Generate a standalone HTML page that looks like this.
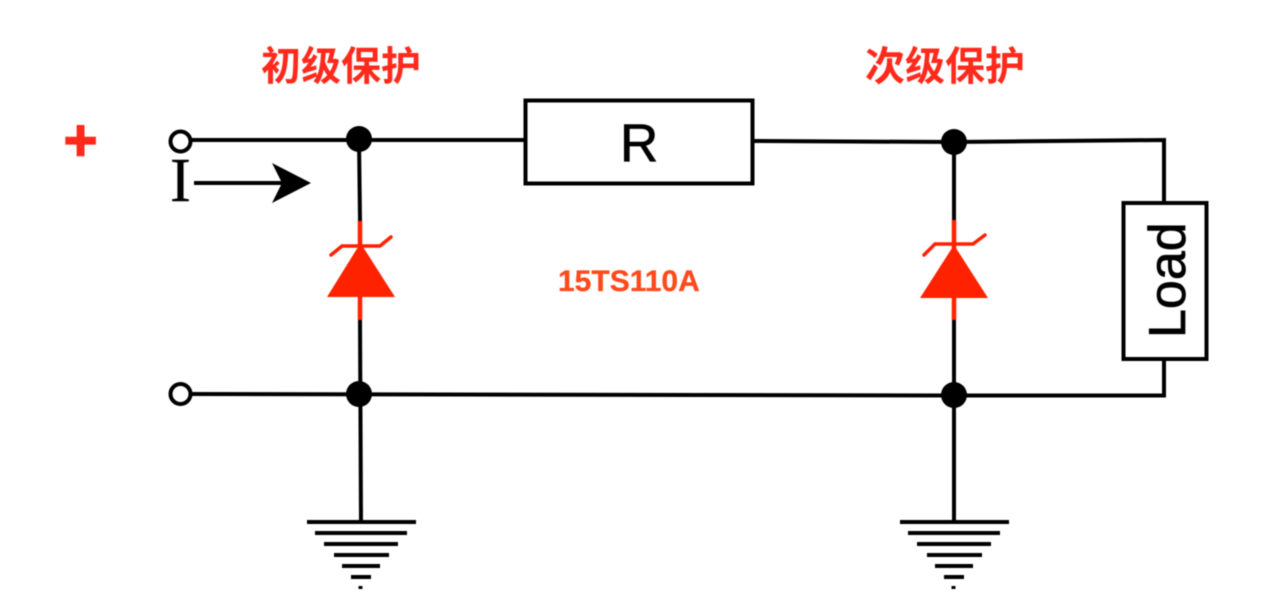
<!DOCTYPE html>
<html lang="zh">
<head>
<meta charset="utf-8">
<style>
html,body{margin:0;padding:0;background:#fff;width:1280px;height:610px;overflow:hidden}
svg{display:block;filter:blur(.6px)}
</style>
</head>
<body>
<svg width="1280" height="610" viewBox="0 0 1280 610" xmlns="http://www.w3.org/2000/svg">
<rect width="1280" height="610" fill="#fff"/>
<text x="261" y="80" font-family="'Liberation Sans','Noto Sans CJK SC',sans-serif" font-weight="700" font-size="40" fill="#ff2a1c">初级保护</text>
<text x="865" y="80" font-family="'Liberation Sans','Noto Sans CJK SC',sans-serif" font-weight="700" font-size="40" fill="#ff2a1c">次级保护</text>
<text x="80.5" y="160" text-anchor="middle" font-family="'Liberation Sans',sans-serif" font-weight="700" font-size="58" stroke="#ff2a1c" stroke-width="1.5" fill="#ff2a1c">+</text>

<g fill="none" stroke="#000" stroke-width="4">
<path d="M190 140H525"/>
<path d="M753 141L954 142L1164 140V202"/>
<path d="M190 394L954 395.5H1164V359"/>
<path d="M359 139L360 221M360 320L361 522"/>
<path d="M954 142V220M954 320V522"/>
<rect x="525.5" y="100.5" width="227" height="83" fill="#fff"/>
<rect x="1123.5" y="203" width="83" height="156" fill="#fff"/>
<circle cx="180.5" cy="141.5" r="10" fill="#fff"/>
<circle cx="180.5" cy="394" r="10" fill="#fff"/>
<path d="M194 183H284"/>
<path d="M307 522H416M315 533H407M324 544H398M334 555H389M342 566H380M351 577H371M360.5 586V589"/>
<path d="M900 522H1009M908 533H1000M917 544H991M927 555H982M935 566H973M944 577H964M953.5 586V589"/>
</g>
<path d="M311 183L272 163L282 183L272 203Z" fill="#000"/>
<g fill="#000">
<circle cx="359" cy="139" r="13"/>
<circle cx="359" cy="394" r="13"/>
<circle cx="954" cy="142" r="13"/>
<circle cx="954" cy="395" r="13"/>
</g>

<g fill="#ff2200">
<path d="M360.5 243L395 297H327Z"/>
<path d="M954 245L988 298H920Z"/>
</g>
<g fill="none" stroke="#ff2200" stroke-width="3.5">
<path d="M360 221V320" stroke-width="4.5"/>
<path d="M331 255L342 246H380L391 237" stroke-linecap="round"/>
<path d="M954 220V320" stroke-width="4.5"/>
<path d="M924 255L935 244H973L985 235" stroke-linecap="round"/>
</g>

<text x="620" y="161" font-family="'Liberation Sans',sans-serif" font-size="53" stroke="#000" stroke-width=".7" fill="#000">R</text>
<text x="558" y="291" font-family="'Liberation Sans',sans-serif" font-weight="700" font-size="30" stroke="#ff4a1c" stroke-width=".3" fill="#ff4a1c">15TS110A</text>
<text transform="translate(1185 338) rotate(-90)" font-family="'Liberation Sans',sans-serif" font-size="52" stroke="#000" stroke-width=".7" fill="#000">Load</text>
<text x="180.5" y="201" text-anchor="middle" font-family="'Liberation Serif',serif" font-size="62" stroke="#000" stroke-width=".4" fill="#000">I</text>
</svg>
</body>
</html>
